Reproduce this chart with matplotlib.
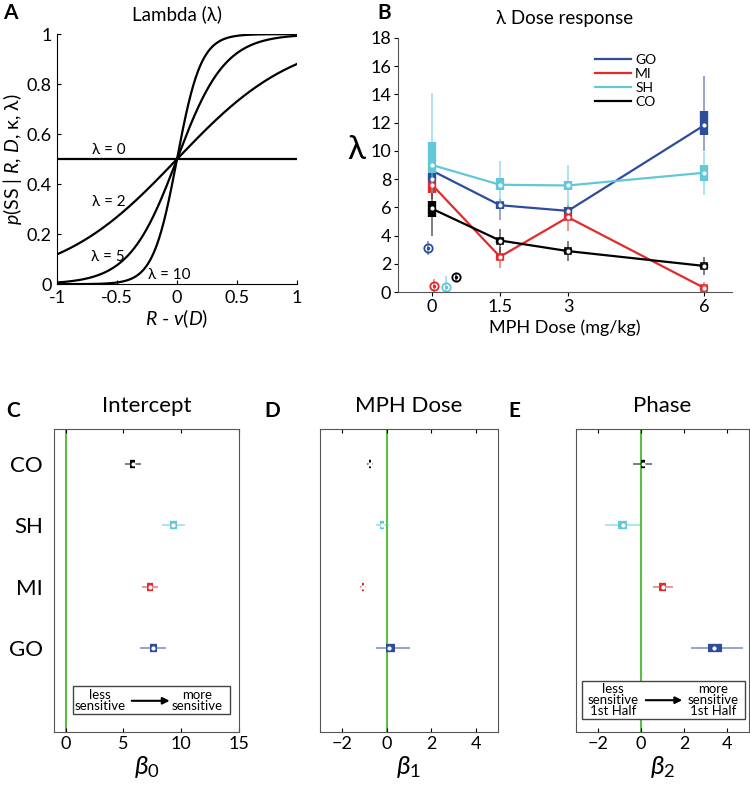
import numpy as np
import matplotlib
matplotlib.use("Agg")
import matplotlib.pyplot as plt
from matplotlib.patches import Rectangle

plt.rcParams['font.family'] = ['Lato', 'DejaVu Sans']
plt.rcParams['mathtext.fontset'] = 'custom'
plt.rcParams['mathtext.it'] = 'Lato:italic'
plt.rcParams['mathtext.rm'] = 'Lato'

# Panel A: logistic choice curves for several lambda values
lambdas = [0, 2, 5, 10]
lam_label_x = [-0.71, -0.71, -0.72, -0.24]
lam_label_y = [0.535, 0.33, 0.11, 0.035]

# Panel B: dose response
doses = [0, 1.5, 3, 6]
groups = ['GO', 'MI', 'SH', 'CO']
colors = {'GO': '#2E4C9C', 'MI': '#E32A2C', 'SH': '#62C7D6', 'CO': 'black'}

line_vals = {'GO': [8.6, 6.15, 5.75, 11.8],
             'MI': [7.6, 2.5, 5.3, 0.3],
             'SH': [9.0, 7.6, 7.55, 8.45],
             'CO': [5.9, 3.65, 2.9, 1.85]}
med_vals = {'GO': [8.0, 6.15, 5.75, 11.85],
            'MI': [7.6, 2.5, 5.3, 0.3],
            'SH': [9.0, 7.6, 7.55, 8.45],
            'CO': [5.95, 3.65, 2.9, 1.85]}
q1_vals = {'GO': [7.7, 5.9, 5.5, 11.1],
           'MI': [7.0, 2.3, 5.1, 0.15],
           'SH': [8.4, 7.2, 7.2, 7.9],
           'CO': [5.3, 3.5, 2.75, 1.7]}
q3_vals = {'GO': [8.4, 6.4, 6.0, 12.8],
           'MI': [7.7, 2.7, 5.5, 0.45],
           'SH': [10.6, 8.1, 7.9, 9.0],
           'CO': [6.45, 3.8, 3.05, 2.0]}
lo_vals = {'GO': [7.3, 5.1, 5.3, 10.0],
           'MI': [6.6, 1.7, 4.3, 0.0],
           'SH': [7.0, 6.0, 6.0, 6.9],
           'CO': [4.0, 2.8, 2.2, 1.2]}
hi_vals = {'GO': [8.7, 6.6, 6.2, 15.3],
           'MI': [8.0, 3.2, 6.0, 0.7],
           'SH': [14.1, 9.3, 9.0, 9.9],
           'CO': [7.0, 4.5, 3.6, 2.5]}
# separate single estimates near dose 0
sep_x = {'GO': -0.09, 'MI': 0.05, 'SH': 0.3, 'CO': 0.53}
sep_y = {'GO': 3.1, 'MI': 0.42, 'SH': 0.35, 'CO': 1.03}
sep_lo = {'GO': 2.6, 'MI': 0.0, 'SH': 0.0, 'CO': 0.75}
sep_hi = {'GO': 3.6, 'MI': 0.95, 'SH': 1.1, 'CO': 1.35}

# Panels C-E: regression coefficients (rows CO, SH, MI, GO)
coef_groups = ['CO', 'SH', 'MI', 'GO']
coef_pos = [4, 3, 2, 1]
b0_med = [5.8, 9.3, 7.3, 7.6]
b0_q1 = [5.6, 9.0, 7.05, 7.3]
b0_q3 = [6.0, 9.6, 7.55, 7.95]
b0_lo = [5.1, 8.3, 6.6, 6.4]
b0_hi = [6.5, 10.3, 8.0, 8.7]
b1_med = [-0.75, -0.22, -1.08, 0.12]
b1_q1 = [-0.8, -0.3, -1.13, -0.05]
b1_q3 = [-0.7, -0.12, -1.03, 0.35]
b1_lo = [-0.9, -0.5, -1.22, -0.5]
b1_hi = [-0.6, 0.1, -0.95, 1.05]
b2_med = [0.1, -0.85, 1.0, 3.4]
b2_q1 = [0.0, -1.05, 0.85, 3.1]
b2_q3 = [0.2, -0.65, 1.15, 3.75]
b2_lo = [-0.35, -1.65, 0.55, 2.3]
b2_hi = [0.5, -0.05, 1.5, 4.7]

green = '#5DBB46'

fig = plt.figure(figsize=(7.5, 7.85), dpi=100)

# ---------------- Panel A ----------------
axA = fig.add_axes([0.076, 0.638, 0.32, 0.3185])
x = np.linspace(-1, 1, 401)
for lam, lx, ly in zip(lambdas, lam_label_x, lam_label_y):
    axA.plot(x, 1 / (1 + np.exp(-lam * x)), color='black', lw=1.6)
    axA.text(lx, ly, f'λ = {lam}', fontsize=11, ha='left', va='center')
axA.set_xlim(-1, 1)
axA.set_ylim(0, 1)
axA.set_xticks([-1, -0.5, 0, 0.5, 1])
axA.set_xticklabels(['-1', '-0.5', '0', '0.5', '1'])
axA.set_yticks([0, 0.2, 0.4, 0.6, 0.8, 1])
axA.set_yticklabels(['0', '0.2', '0.4', '0.6', '0.8', '1'])
axA.spines['top'].set_visible(False)
axA.spines['right'].set_visible(False)
axA.tick_params(direction='in', labelsize=13, length=3)
axA.tick_params(axis='x', pad=4)
axA.tick_params(axis='y', pad=4)
axA.set_xlabel('$R$ - $v$($D$)', fontsize=14, labelpad=1)
axA.set_ylabel('$p$(SS | $R$, $D$, κ, λ)', fontsize=14, labelpad=2)
axA.set_title('Lambda (λ)', fontsize=13.5, pad=10)

# ---------------- Panel B ----------------
axB = fig.add_axes([0.5307, 0.628, 0.4453, 0.3236])
for g in groups:
    c = colors[g]
    axB.vlines(doses, lo_vals[g], hi_vals[g], color=c, lw=1.3, alpha=0.55)
    axB.vlines(doses, q1_vals[g], q3_vals[g], color=c, lw=6)
    axB.plot(doses, line_vals[g], color=c, lw=1.6, marker='s', ms=5,
             mfc='none', mec=c, mew=1.2, label=g)
    axB.plot(doses, med_vals[g], 'o', color='white', ms=2, zorder=5)
    axB.vlines(sep_x[g], sep_lo[g], sep_hi[g], color=c, lw=1.3, alpha=0.55)
    axB.plot(sep_x[g], sep_y[g], 'o', mfc='none', mec=c, mew=1.3, ms=6)
    axB.plot(sep_x[g], sep_y[g], 'o', color=c, ms=1.5)
axB.set_xlim(-0.75, 6.62)
axB.set_ylim(0, 18)
axB.set_xticks(doses)
axB.set_xticklabels(['0', '1.5', '3', '6'])
axB.set_yticks(range(0, 19, 2))
axB.spines['top'].set_visible(False)
axB.spines['right'].set_visible(False)
axB.spines['left'].set_color('#555555')
axB.spines['bottom'].set_color('#555555')
axB.tick_params(direction='out', labelsize=13, length=3, pad=2)
axB.set_xlabel('MPH Dose (mg/kg)', fontsize=13, labelpad=3)
axB.set_ylabel('λ', fontsize=24, rotation=0, labelpad=10, y=0.5)
axB.set_title('λ Dose response', fontsize=13.5, pad=10)
leg = axB.legend(loc='upper right', bbox_to_anchor=(0.79, 0.96), frameon=False,
                 fontsize=10, handlelength=2.6, handletextpad=0.3, labelspacing=0.15,
                 borderaxespad=0)
for h in leg.get_lines():
    h.set_marker('')

# ---------------- Panels C-E ----------------
def coef_panel(rect, med, q1, q3, lo, hi, xlim, xticks, title, xlabel, show_y):
    ax = fig.add_axes(rect)
    ax.axvline(0, color=green, lw=1.5, zorder=1)
    for i, g in enumerate(coef_groups):
        c = colors[g]
        y = coef_pos[i]
        ax.hlines(y, lo[i], hi[i], color=c, lw=1.3, alpha=0.55, zorder=2)
        ax.hlines(y, q1[i], q3[i], color=c, lw=6, zorder=3)
        ax.plot(med[i], y, 'o', color='white', ms=2, zorder=4)
    ax.set_xlim(*xlim)
    ax.set_ylim(-0.37, 4.57)
    ax.set_xticks(xticks)
    ax.set_xticklabels([str(t).replace('-', '\u2212') for t in xticks])
    ax.set_yticks(coef_pos)
    if show_y:
        ax.set_yticklabels(coef_groups, fontsize=16)
    else:
        ax.set_yticklabels([])
    ax.tick_params(axis='y', length=0, pad=8)
    ax.tick_params(axis='x', direction='in', top=True, labelsize=13, length=3, pad=3)
    for s in ax.spines.values():
        s.set_color('#555555')
    ax.set_title(title, fontsize=16, pad=12)
    ax.set_xlabel(xlabel, fontsize=19, labelpad=1)
    return ax

axC = coef_panel([0.072, 0.0675, 0.2467, 0.386], b0_med, b0_q1, b0_q3, b0_lo, b0_hi,
                 (-1, 15), [0, 5, 10, 15], 'Intercept', r'$\beta_0$', True)
axD = coef_panel([0.4267, 0.0675, 0.2373, 0.386], b1_med, b1_q1, b1_q3, b1_lo, b1_hi,
                 (-3, 5), [-2, 0, 2, 4], 'MPH Dose', r'$\beta_1$', False)
axE = coef_panel([0.768, 0.0675, 0.2307, 0.386], b2_med, b2_q1, b2_q3, b2_lo, b2_hi,
                 (-3, 5), [-2, 0, 2, 4], 'Phase', r'$\beta_2$', False)

# annotation boxes
axC.add_patch(Rectangle((0.103, 0.059), 0.848, 0.093, transform=axC.transAxes,
                        fill=True, fc='white', ec='#444444', lw=1, zorder=5))
axC.text(0.249, 0.105, 'less\nsensitive', transform=axC.transAxes, ha='center',
         va='center', fontsize=9.5, linespacing=0.9, zorder=6)
axC.text(0.773, 0.105, 'more\nsensitive', transform=axC.transAxes, ha='center',
         va='center', fontsize=9.5, linespacing=0.9, zorder=6)
axC.annotate('', xy=(0.64, 0.103), xytext=(0.405, 0.103), xycoords='axes fraction',
             arrowprops=dict(arrowstyle='-|>', color='black', lw=1.5), zorder=6)

axE.add_patch(Rectangle((0.035, 0.043), 0.942, 0.125, transform=axE.transAxes,
                        fill=True, fc='white', ec='#444444', lw=1, zorder=5))
axE.text(0.214, 0.105, 'less\nsensitive\n1st Half', transform=axE.transAxes, ha='center',
         va='center', fontsize=9.5, linespacing=0.9, zorder=6)
axE.text(0.792, 0.105, 'more\nsensitive\n1st Half', transform=axE.transAxes, ha='center',
         va='center', fontsize=9.5, linespacing=0.9, zorder=6)
axE.annotate('', xy=(0.63, 0.105), xytext=(0.387, 0.105), xycoords='axes fraction',
             arrowprops=dict(arrowstyle='-|>', color='black', lw=1.5), zorder=6)

# panel letters
for letter, fx, fy in [('A', 0.004, 0.984), ('B', 0.503, 0.984),
                       ('C', 0.009, 0.477), ('D', 0.352, 0.477), ('E', 0.678, 0.477)]:
    fig.text(fx, fy, letter, fontsize=15, fontweight='bold', ha='left', va='center')

fig.savefig('out.png', dpi=100)
